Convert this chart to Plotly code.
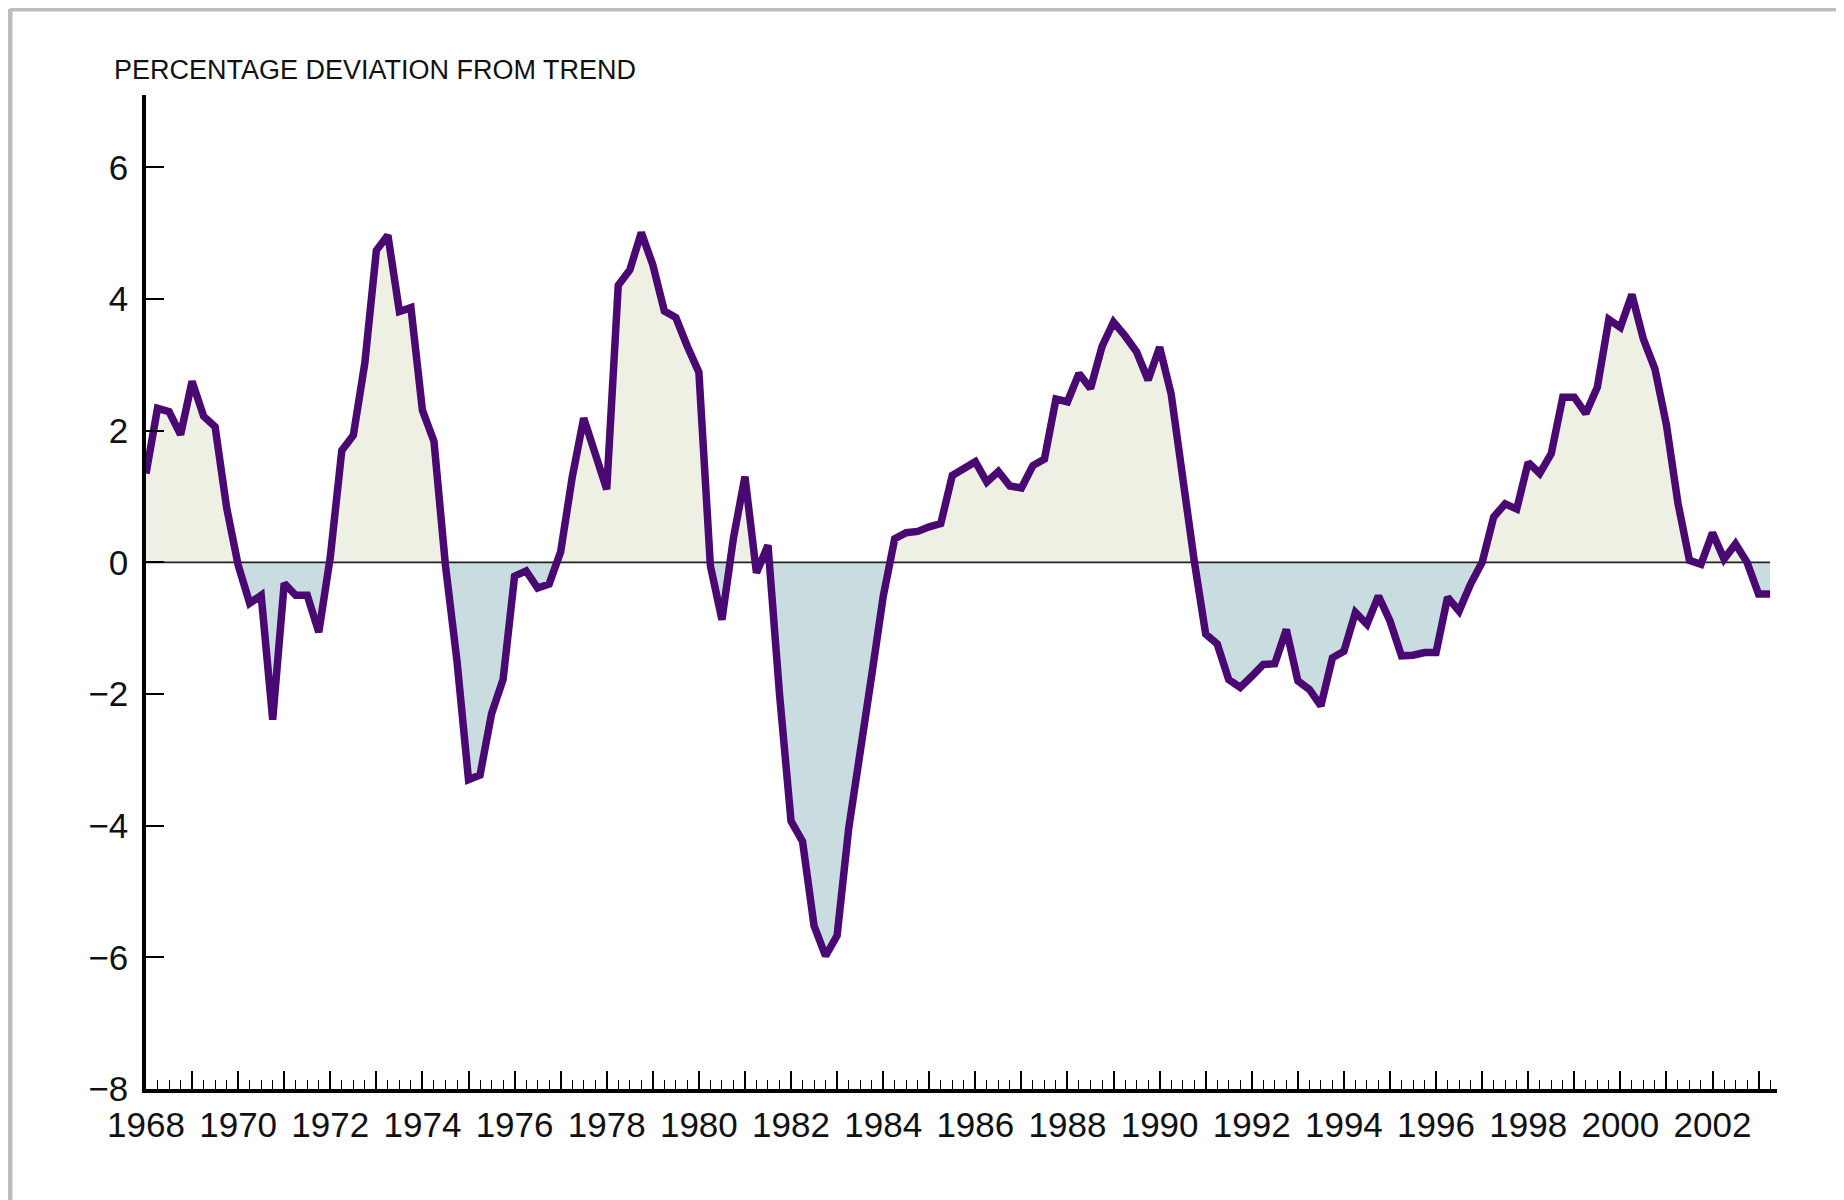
"""
Output gap chart: percentage deviation of output from trend, quarterly 1968-2003.
Positive stretches shaded beige, negative stretches shaded blue-grey.
"""

import numpy as np
import plotly.graph_objects as go


START_YEAR = 1968  # first quarter is 1968 Q1

# quarterly values, 1968Q1 .. 2003Q2
deviation = [
    1.35, 2.34, 2.29, 1.94,      # 1968
    2.75, 2.22, 2.06, 0.83,      # 1969
    -0.04, -0.62, -0.50, -2.39,  # 1970
    -0.32, -0.50, -0.50, -1.06,  # 1971
    0.08, 1.70, 1.93, 3.03,      # 1972
    4.74, 4.97, 3.81, 3.87,      # 1973
    2.31, 1.84, -0.05, -1.50,    # 1974
    -3.30, -3.23, -2.30, -1.78,  # 1975
    -0.21, -0.13, -0.39, -0.33,  # 1976
    0.16, 1.29, 2.19, 1.65,      # 1977
    1.11, 4.21, 4.44, 5.01,      # 1978
    4.52, 3.82, 3.72, 3.28,      # 1979
    2.89, -0.05, -0.87, 0.37,    # 1980
    1.30, -0.16, 0.26, -2.00,    # 1981
    -3.93, -4.24, -5.52, -5.98,  # 1982
    -5.67, -4.05, -2.96, -1.72,  # 1983
    -0.52, 0.36, 0.45, 0.47,     # 1984
    0.54, 0.59, 1.32, 1.42,      # 1985
    1.53, 1.22, 1.38, 1.16,      # 1986
    1.13, 1.47, 1.57, 2.48,      # 1987
    2.44, 2.87, 2.64, 3.28,      # 1988
    3.65, 3.44, 3.20, 2.77,      # 1989
    3.27, 2.56, 1.19, 0.03,      # 1990
    -1.09, -1.24, -1.78, -1.90,  # 1991
    -1.73, -1.55, -1.54, -1.02,  # 1992
    -1.80, -1.93, -2.18, -1.45,  # 1993
    -1.35, -0.76, -0.94, -0.51,  # 1994
    -0.89, -1.42, -1.41, -1.37,  # 1995
    -1.37, -0.53, -0.74, -0.33,  # 1996
    0.00, 0.69, 0.89, 0.81,      # 1997
    1.52, 1.35, 1.65, 2.51,      # 1998
    2.51, 2.26, 2.66, 3.69,      # 1999
    3.57, 4.07, 3.39, 2.94,      # 2000
    2.09, 0.90, 0.03, -0.03,     # 2001
    0.45, 0.05, 0.28, 0.00,      # 2002
    -0.48, -0.48,                # 2003
]

year_ticks = list(range(1968, 2004))
year_labels = [str(y) if y % 2 == 0 else "" for y in year_ticks]

y_ticks = [-8, -6, -4, -2, 0, 2, 4, 6]
y_labels = ["\u22128", "\u22126", "\u22124", "\u22122", "0", "2", "4", "6"]

LINE_COLOR = "#4A0872"
POS_FILL = "#EFF0E4"
NEG_FILL = "#C9DDE0"
FONT = "Liberation Sans, Arial, Helvetica, sans-serif"


def split_at_zero(x, y):
    """Insert the zero crossings so the two shaded areas meet cleanly."""
    xs, ys = [x[0]], [y[0]]
    for i in range(1, len(x)):
        y0, y1 = y[i - 1], y[i]
        if y0 * y1 < 0:
            xs.append(x[i - 1] + (x[i] - x[i - 1]) * y0 / (y0 - y1))
            ys.append(0.0)
        xs.append(x[i])
        ys.append(y1)
    return np.array(xs), np.array(ys)


quarters = START_YEAR + np.arange(len(deviation)) / 4
xs, ys = split_at_zero(quarters, np.array(deviation))

fig = go.Figure()

# shaded areas above / below trend
fig.add_trace(go.Scatter(
    x=xs, y=np.maximum(ys, 0), mode="lines", line=dict(width=0),
    fill="tozeroy", fillcolor=POS_FILL, hoverinfo="skip", showlegend=False,
))
fig.add_trace(go.Scatter(
    x=xs, y=np.minimum(ys, 0), mode="lines", line=dict(width=0),
    fill="tozeroy", fillcolor=NEG_FILL, hoverinfo="skip", showlegend=False,
))

# zero line sits between the fills and the series
fig.add_trace(go.Scatter(
    x=[quarters[0], quarters[-1]], y=[0, 0], mode="lines",
    line=dict(color="#222222", width=1.6), hoverinfo="skip", showlegend=False,
))

fig.add_trace(go.Scatter(
    x=quarters, y=deviation, mode="lines",
    line=dict(color=LINE_COLOR, width=7.5),
    showlegend=False,
))

fig.update_xaxes(
    range=[1968, 2003.4],
    tickmode="array", tickvals=year_ticks, ticktext=year_labels,
    ticks="inside", ticklen=18, tickwidth=1.6, tickcolor="black",
    minor=dict(tickmode="linear", tick0=1968, dtick=0.25,
               ticks="inside", ticklen=9, tickwidth=1.4, tickcolor="black"),
    showline=True, linewidth=3.5, linecolor="black",
    showgrid=False, zeroline=False,
    tickfont=dict(family=FONT, size=35, color="#111111"),
    ticklabelstandoff=2,
)
fig.update_yaxes(
    range=[-8, 7.1],
    tickmode="array", tickvals=y_ticks, ticktext=y_labels,
    ticks="inside", ticklen=18, tickwidth=1.8, tickcolor="black",
    showline=True, linewidth=3.5, linecolor="black",
    showgrid=False, zeroline=False,
    tickfont=dict(family=FONT, size=35, color="#111111"),
    ticklabelstandoff=7,
)

fig.add_annotation(
    text="PERCENTAGE DEVIATION FROM TREND",
    xref="paper", yref="paper", x=-0.0208, y=1.0252,
    xanchor="left", yanchor="middle", showarrow=False,
    font=dict(family=FONT, size=27, color="#111111"),
)

# grey frame of the original page (top and left edges only visible)
frame = dict(color="#BDBDBD", width=5)
fig.add_shape(type="line", xref="paper", yref="paper",
              x0=-0.0834, x1=1.05, y0=1.0865, y1=1.0865, line=frame)
fig.add_shape(type="line", xref="paper", yref="paper",
              x0=-0.0834, x1=-0.0834, y0=1.0865, y1=-0.13, line=frame)

fig.update_layout(
    width=1844,
    height=1200,
    # the page body adds an 8px offset, so margins are trimmed by that much
    margin=dict(l=138, r=75, t=87, b=119),
    plot_bgcolor="white",
    paper_bgcolor="white",
    font=dict(family=FONT),
)

fig.write_html("out.html")
